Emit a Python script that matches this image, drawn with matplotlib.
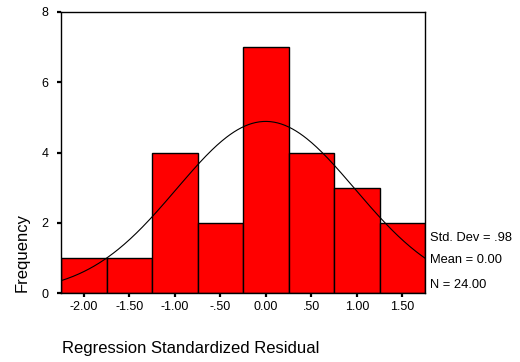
import numpy as np
import matplotlib
matplotlib.use("Agg")
import matplotlib.pyplot as plt

plt.rcParams['font.family'] = ['Liberation Sans', 'DejaVu Sans']

bin_edges = [-2.25, -1.75, -1.25, -0.75, -0.25, 0.25, 0.75, 1.25, 1.75]
counts = [1, 1, 4, 2, 7, 4, 3, 2]
x_ticks = [-2.0, -1.5, -1.0, -0.5, 0.0, 0.5, 1.0, 1.5]
x_tick_labels = ["-2.00", "-1.50", "-1.00", "-.50", "0.00", ".50", "1.00", "1.50"]
y_ticks = [0, 2, 4, 6, 8]
std_dev = 0.98
mean = 0.00
n = 24

fig = plt.figure(figsize=(5.2, 3.62), dpi=100)
ax = fig.add_axes([61/520, 1 - 293/362, (425-61)/520, (293-12)/362])

widths = np.diff(bin_edges)
ax.bar(bin_edges[:-1], counts, width=widths, align='edge', color='#ff0000',
       edgecolor='black', linewidth=1.0)

bw = widths[0]
xs = np.linspace(bin_edges[0], bin_edges[-1], 300)
ys = n * bw * np.exp(-0.5 * ((xs - mean) / std_dev) ** 2) / (std_dev * np.sqrt(2 * np.pi))
ax.plot(xs, ys, color='black', linewidth=0.8)

ax.set_xlim(bin_edges[0], bin_edges[-1])
ax.set_ylim(0, 8)
ax.set_xticks(x_ticks)
ax.set_xticklabels(x_tick_labels)
ax.set_yticks(y_ticks)
ax.tick_params(axis='both', labelsize=9, length=3, width=1.6, direction='out')
ax.tick_params(axis='x', pad=3)
ax.tick_params(axis='y', pad=6)
for s in ax.spines.values():
    s.set_linewidth(1.0)

fig.text(22/520, 1 - 253/362, "Frequency", rotation=90, fontsize=12,
         ha='center', va='center')
fig.text(62/520, 1 - 349/362, "Regression Standardized Residual", fontsize=12,
         ha='left', va='center')

stats = ["Std. Dev = .98", "Mean = 0.00", "N = 24.00"]
ys_txt = [238, 260, 285]
for s, yp in zip(stats, ys_txt):
    fig.text(430/520, 1 - yp/362, s, fontsize=9.3, ha='left', va='center')

fig.savefig("out.png", dpi=100)
